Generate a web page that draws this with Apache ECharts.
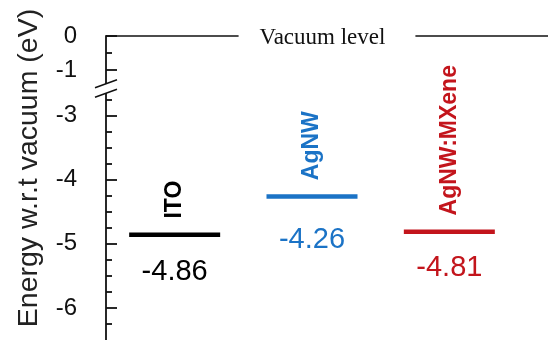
<!DOCTYPE html>
<html>
<head>
<meta charset="utf-8">
<script src="https://cdn.jsdelivr.net/npm/echarts@6/dist/echarts.min.js"></script>
<style>
  html, body { margin: 0; padding: 0; background: #fff; }
  #chart { width: 549px; height: 340px; }
</style>
</head>
<body>
<div id="chart"></div>
<script>
// Work functions of the three electrodes, relative to vacuum (eV)
const materials = ['ITO', 'AgNW', 'AgNW:MXene'];
const workFunctions = [-4.86, -4.26, -4.81];
const materialColors = ['#000000', '#1b73c6', '#c3151c'];

// Vacuum reference level
const vacuumLevel = 0;
const vacuumText = 'Vacuum level';

// Broken energy axis: upper segment (0 .. -1) and lower segment (-3 .. -6)
const upperMajorTicks = [0, -1];
const upperMinorTicks = [-0.5];
const lowerMajorTicks = [-3, -4, -5, -6];
const lowerMinorTicks = [-2.75, -3.25, -3.5, -3.75, -4.25, -4.5, -4.75,
                         -5.25, -5.5, -5.75, -6.25];
const axisTitle = 'Energy w.r.t vacuum (eV)';

const sans = 'Arial, "Liberation Sans", Helvetica, sans-serif';
const serif = '"Times New Roman", "Liberation Serif", serif';
const ink = '#111';

function majorAxis(gridIndex, min, max, ticks) {
  return {
    type: 'value', gridIndex, min, max, position: 'left', offset: 0,
    axisLine: { show: true, lineStyle: { color: ink, width: 1.8 } },
    axisTick: { show: true, inside: true, length: 11, customValues: ticks,
                lineStyle: { color: ink, width: 1.8 } },
    axisLabel: { show: true, customValues: ticks, margin: 29,
                 fontFamily: sans, fontSize: 24, color: ink,
                 formatter: v => String(v) },
    splitLine: { show: false }
  };
}
function minorAxis(gridIndex, min, max, ticks) {
  return {
    type: 'value', gridIndex, min, max, position: 'left', offset: 0,
    axisLine: { show: false },
    axisTick: { show: true, inside: true, length: 6, customValues: ticks,
                lineStyle: { color: ink, width: 1.8 } },
    axisLabel: { show: false },
    splitLine: { show: false }
  };
}

const chart = echarts.init(document.getElementById('chart'), null, { renderer: 'canvas' });

const valueLabelDistance = [20, 27, 20];

chart.setOption({
  animation: false,
  backgroundColor: '#fff',
  grid: [
    { left: 106, right: 1, top: 36, height: 51 },
    { left: 106, width: 412, top: 90, height: 256 }
  ],
  xAxis: [
    { type: 'value', gridIndex: 0, min: 0, max: 1, show: false },
    { type: 'category', gridIndex: 1, data: materials, show: false, boundaryGap: true }
  ],
  yAxis: [
    majorAxis(0, -1.5, 0, upperMajorTicks),
    minorAxis(0, -1.5, 0, upperMinorTicks),
    majorAxis(1, -6.5, -2.6, lowerMajorTicks),
    minorAxis(1, -6.5, -2.6, lowerMinorTicks)
  ],
  series: [
    {
      // vacuum level line across the upper segment
      type: 'line', xAxisIndex: 0, yAxisIndex: 0,
      symbol: 'none', silent: true, clip: false,
      lineStyle: { color: ink, width: 1.6 },
      data: [[0, vacuumLevel], [1, vacuumLevel]],
      z: 3
    },
    {
      // energy level bars with their values underneath
      type: 'scatter', xAxisIndex: 1, yAxisIndex: 2,
      symbol: 'rect', symbolSize: [91, 4.5],
      data: workFunctions.map((v, i) => ({
        value: [materials[i], v],
        itemStyle: { color: materialColors[i], opacity: 1 },
        label: {
          show: true, position: 'bottom', distance: valueLabelDistance[i],
          formatter: p => p.value[1].toFixed(2),
          fontFamily: sans, fontSize: 29, color: materialColors[i]
        }
      }))
    },
    {
      // material names written upward above each bar
      type: 'scatter', xAxisIndex: 1, yAxisIndex: 2,
      symbol: 'rect', symbolSize: [91, 4.5], silent: true,
      data: workFunctions.map((v, i) => ({
        value: [materials[i], v],
        itemStyle: { color: 'rgba(0,0,0,0)', opacity: 1 },
        label: {
          show: true, position: 'top', distance: 14, rotate: 90,
          align: 'left', verticalAlign: 'middle',
          formatter: materials[i],
          fontFamily: sans, fontSize: 23, fontWeight: 'bold',
          color: materialColors[i]
        }
      }))
    }
  ]
});

// Caption, axis title and break marks are placed from the axis geometry
const axisX = chart.convertToPixel({ xAxisIndex: 0 }, 0);
const axisRight = chart.convertToPixel({ xAxisIndex: 0 }, 1);
const vacY = chart.convertToPixel({ yAxisIndex: 0 }, vacuumLevel);
const upperEnd = chart.convertToPixel({ yAxisIndex: 0 }, -1.5);
const lowerStart = chart.convertToPixel({ yAxisIndex: 2 }, -2.6);
const breakY = (upperEnd + lowerStart) / 2;
const sx = 11, sy = 4, half = 4.7;

chart.setOption({
  graphic: [
    {
      type: 'text', z: 100,
      x: (axisX + axisRight) / 2, y: vacY + 2,
      style: {
        text: vacuumText, fontFamily: serif, fontSize: 23, fill: ink,
        align: 'center', verticalAlign: 'middle',
        backgroundColor: '#fff', padding: [0, 30, 0, 21]
      }
    },
    {
      type: 'polygon', z: 100,
      shape: { points: [
        [axisX - sx, breakY - half + sy], [axisX + sx, breakY - half - sy],
        [axisX + sx, breakY + half - sy], [axisX - sx, breakY + half + sy]
      ] },
      style: { fill: '#fff' }
    },
    {
      type: 'line', z: 101,
      shape: { x1: axisX - sx, y1: breakY - half + sy, x2: axisX + sx, y2: breakY - half - sy },
      style: { stroke: ink, lineWidth: 1.6 }
    },
    {
      type: 'line', z: 101,
      shape: { x1: axisX - sx, y1: breakY + half + sy, x2: axisX + sx, y2: breakY + half - sy },
      style: { stroke: ink, lineWidth: 1.6 }
    },
    {
      type: 'text', z: 101,
      x: 29, y: 168, rotation: Math.PI / 2,
      style: {
        text: axisTitle, fontFamily: sans, fontSize: 28.5, fill: '#222',
        align: 'center', verticalAlign: 'middle'
      }
    }
  ]
});
</script>
</body>
</html>
